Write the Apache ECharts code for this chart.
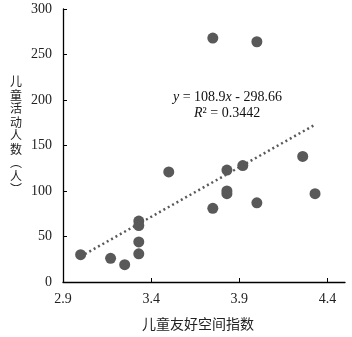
<!DOCTYPE html>
<html>
<head>
<meta charset="utf-8">
<script src="https://cdn.jsdelivr.net/npm/echarts@6/dist/echarts.min.js"></script>
<style>
  html, body { margin: 0; padding: 0; background: #fff; }
  #chart { width: 352px; height: 337px; }
</style>
</head>
<body>
<div id="chart"></div>
<script>
// 儿童友好空间指数 / 儿童活动人数
var friendIndex = [3.0, 3.17, 3.25, 3.33, 3.33, 3.33, 3.33, 3.50, 3.75, 3.83, 3.83, 3.83, 3.92, 4.00, 4.26, 4.33, 3.75, 4.00]
var childCount  = [30, 26, 19, 67, 62, 44, 31, 121, 81, 97, 100, 123, 128, 87, 138, 97, 268, 264]
var xTicks = [2.9, 3.4, 3.9, 4.4]
var yTicks = [0, 50, 100, 150, 200, 250, 300]
// 趋势线 y = 108.9x - 298.66
var trendCoef = [108.9, -298.66]

var points = friendIndex.map(function (x, i) { return [x, childCount[i]] })
var xLo = Math.min.apply(null, friendIndex)
var xHi = Math.max.apply(null, friendIndex)
var trend = [xLo, xHi].map(function (x) { return [x, trendCoef[0] * x + trendCoef[1]] })

var serif = 'Liberation Serif, Times New Roman, serif'
var cjk = 'Noto Sans CJK SC'

var chart = echarts.init(document.getElementById('chart'))
chart.setOption({
  animation: false,
  grid: { left: 63, right: 7, top: 9, bottom: 55 },
  xAxis: {
    type: 'value',
    min: 2.9,
    max: 4.5,
    interval: 0.5,
    axisLine: { show: true, onZero: false, lineStyle: { color: '#000', width: 1.3 } },
    axisTick: { show: true, inside: true, length: 4, customValues: xTicks, lineStyle: { color: '#000' } },
    axisLabel: { customValues: xTicks, fontFamily: serif, fontSize: 14, color: '#222', margin: 10,
      formatter: function (v) { return v.toFixed(1) } },
    splitLine: { show: false }
  },
  yAxis: {
    type: 'value',
    min: 0,
    max: 300,
    interval: 50,
    axisLine: { show: true, lineStyle: { color: '#000', width: 1.3 } },
    axisTick: { show: true, inside: true, length: 4, customValues: yTicks, lineStyle: { color: '#000' } },
    axisLabel: { fontFamily: serif, fontSize: 14, color: '#222', margin: 11 },
    splitLine: { show: false }
  },
  series: [
    {
      type: 'line',
      data: trend,
      symbol: 'none',
      silent: true,
      lineStyle: { color: '#595959', width: 2.5, type: [2, 3] },
      z: 1
    },
    {
      type: 'scatter',
      data: points,
      symbolSize: 11,
      itemStyle: { color: '#595959', opacity: 1 },
      z: 2
    }
  ],
  graphic: [
    {
      type: 'text',
      left: 142,
      top: 317,
      style: { text: '儿童友好空间指数', font: '14px ' + cjk, fill: '#222' }
    },
    {
      type: 'text',
      left: 10,
      top: 75,
      style: {
        text: '儿\n童\n活\n动\n人\n数\n︵\n人\n︶',
        font: '12px ' + cjk,
        lineHeight: 13.5,
        fill: '#222'
      }
    },
    {
      type: 'text',
      left: 173,
      top: 90,
      style: {
        text: '{i|y} = 108.9{i|x} - 298.66',
        font: '14px ' + serif,
        fill: '#111',
        rich: { i: { fontStyle: 'italic', fontFamily: serif, fontSize: 14 } }
      }
    },
    {
      type: 'text',
      left: 194,
      top: 106,
      style: {
        text: '{i|R}² = 0.3442',
        font: '14px ' + serif,
        fill: '#111',
        rich: { i: { fontStyle: 'italic', fontFamily: serif, fontSize: 14 } }
      }
    }
  ]
})
</script>
</body>
</html>
